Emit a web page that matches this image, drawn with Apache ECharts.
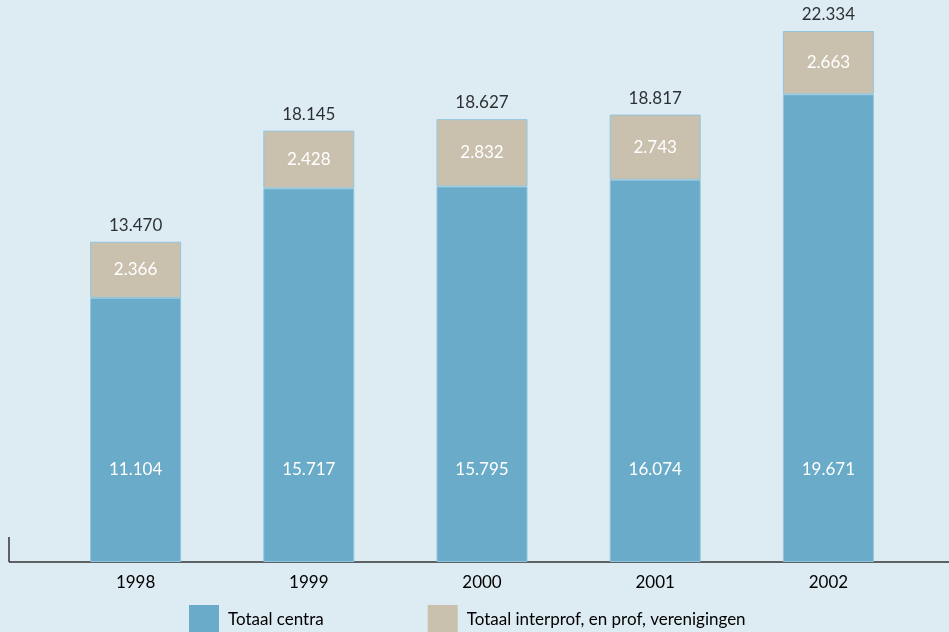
<!DOCTYPE html>
<html>
<head>
<meta charset="utf-8">
<script src="https://cdn.jsdelivr.net/npm/echarts@6/dist/echarts.min.js"></script>
<style>
html,body{margin:0;padding:0;background:#ddebf2;}
#c{width:949px;height:632px;}
</style>
</head>
<body>
<div id="c"></div>
<script>
var categories = ['1998', '1999', '2000', '2001', '2002'];
var centra = [11104, 15717, 15795, 16074, 19671];
var verenigingen = [2366, 2428, 2832, 2743, 2663];
var totals = [13470, 18145, 18627, 18817, 22334];
var seriesNames = ['Totaal centra', 'Totaal interprof, en prof, verenigingen'];

function fmt(v) {
  return String(v).replace(/\B(?=(\d{3})+(?!\d))/g, '.');
}

var FONT = 'Lato';
var chart = echarts.init(document.getElementById('c'));
chart.setOption({
  backgroundColor: '#ddebf2',
  animation: false,
  textStyle: { fontFamily: FONT },
  grid: { left: 49, right: 34, top: 31, bottom: 70 },
  legend: {
    left: 184, top: 600,
    itemWidth: 30, itemHeight: 30, itemGap: 104,
    icon: 'rect',
    itemStyle: { borderWidth: 0 },
    textStyle: { fontFamily: FONT, fontSize: 17, color: '#000', padding: [12, 0, 0, 4] },
    data: seriesNames
  },
  xAxis: {
    type: 'category',
    data: categories,
    axisLine: { show: false },
    axisTick: { show: false },
    axisLabel: { color: '#000', fontSize: 17, fontFamily: FONT, margin: 12 }
  },
  yAxis: {
    type: 'value', min: 0, max: 22334,
    show: false,
    splitLine: { show: false }
  },
  series: [
    {
      name: seriesNames[0], type: 'bar', stack: 't', barWidth: 91,
      data: centra,
      itemStyle: { color: '#69abc8', borderColor: '#92c5dc', borderWidth: 1 },
      label: {
        show: true, position: 'insideBottom', distance: 84,
        color: '#ffffff', fontSize: 17, fontFamily: FONT,
        formatter: function (p) { return fmt(p.value); }
      }
    },
    {
      name: seriesNames[1], type: 'bar', stack: 't', barWidth: 91,
      data: verenigingen,
      itemStyle: { color: '#c9c1ae', borderColor: '#92c5dc', borderWidth: 1 },
      label: {
        show: true, position: 'inside',
        color: '#ffffff', fontSize: 17, fontFamily: FONT,
        formatter: function (p) { return fmt(p.value); }
      }
    },
    {
      name: 'totaal', type: 'scatter', symbolSize: 0,
      data: totals,
      label: {
        show: true, position: 'top', distance: 8,
        color: '#000', fontSize: 17, fontFamily: FONT,
        formatter: function (p) { return fmt(p.value); }
      },
      tooltip: { show: false }
    }
  ],
  graphic: [
    { type: 'line', shape: { x1: 9, y1: 562, x2: 949, y2: 562 }, style: { stroke: '#333', lineWidth: 1.5 } },
    { type: 'line', shape: { x1: 9, y1: 537, x2: 9, y2: 562 }, style: { stroke: '#333', lineWidth: 1.5 } }
  ]
});
</script>
</body>
</html>
